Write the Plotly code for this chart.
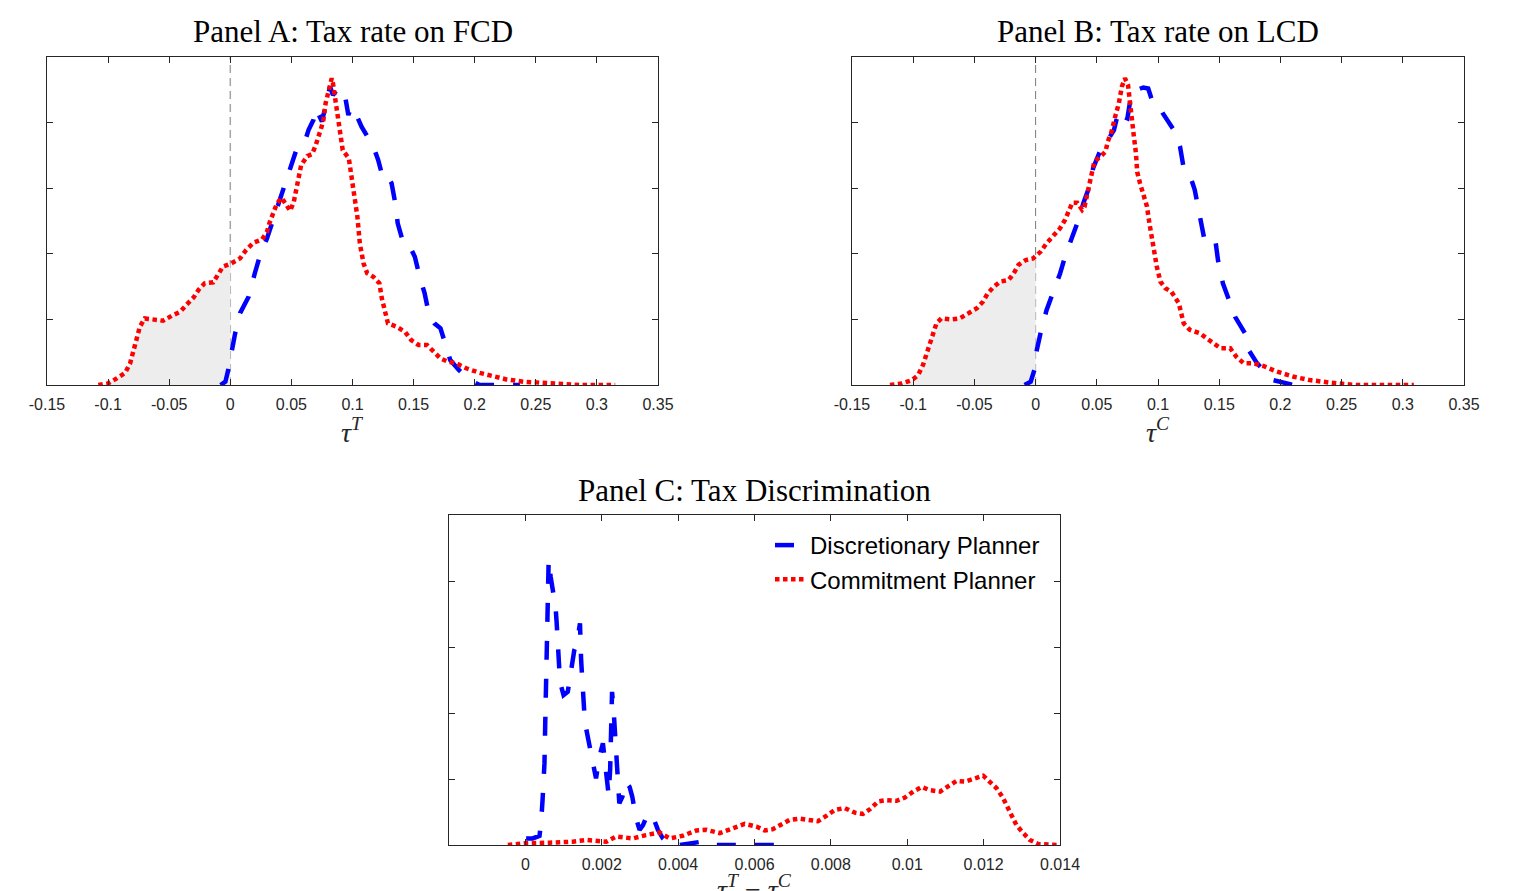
import numpy as np
import plotly.graph_objects as go

# ---------------- data ----------------
# Panel A: tax rate on FCD (tau^T)
A_blue_x = [-0.008, -0.004, -0.002, 0.001, 0.004, 0.008, 0.015, 0.020, 0.024, 0.030, 0.035, 0.041, 0.045,
            0.050, 0.054, 0.061, 0.064, 0.068, 0.070, 0.075, 0.0816, 0.084, 0.088, 0.0925, 0.094, 0.0966,
            0.099, 0.102, 0.1075, 0.117, 0.121, 0.125, 0.129, 0.132, 0.135, 0.137, 0.142, 0.147, 0.151,
            0.155, 0.159, 0.163, 0.167, 0.172, 0.176, 0.180, 0.187, 0.196, 0.204, 0.237]
A_blue_y = [0, 0.10, 0.41, 1.07, 1.58, 2.19, 2.69, 3.40, 3.91, 4.47, 5.03, 5.64, 6.10, 6.71, 7.16, 7.42,
            7.77, 8.08, 8.44, 8.03, 9.10, 8.84, 9.04, 9.0, 8.79, 8.23, 8.48, 8.33, 7.87, 7.27, 6.86, 6.30,
            6.35, 6.15, 5.54, 4.93, 4.27, 4.22, 3.91, 3.30, 2.80, 2.08, 1.88, 1.73, 1.27, 0.76, 0.46, 0.15,
            0, 0]
A_red_x = [-0.108, -0.100, -0.093, -0.086, -0.082, -0.078, -0.074, -0.070, -0.063, -0.055, -0.048, -0.041,
           -0.036, -0.030, -0.026, -0.021, -0.014, -0.010, -0.006, 0.001, 0.008, 0.013, 0.019, 0.026, 0.030,
           0.032, 0.035, 0.038, 0.042, 0.046, 0.049, 0.052, 0.054, 0.056, 0.058, 0.063, 0.067, 0.070, 0.073,
           0.076, 0.078, 0.081, 0.083, 0.084, 0.086, 0.088, 0.090, 0.092, 0.097, 0.099, 0.102, 0.104, 0.106,
           0.109, 0.112, 0.117, 0.122, 0.124, 0.127, 0.129, 0.136, 0.143, 0.148, 0.154, 0.161, 0.166, 0.172,
           0.178, 0.185, 0.193, 0.204, 0.215, 0.226, 0.240, 0.259, 0.286, 0.315]
A_red_y = [0, 0.05, 0.2, 0.37, 0.66, 1.17, 1.78, 2.03, 2.0, 1.96, 2.11, 2.23, 2.44, 2.67, 2.90, 3.10, 3.13,
           3.35, 3.61, 3.71, 3.86, 4.12, 4.34, 4.44, 4.67, 4.93, 5.23, 5.52, 5.71, 5.49, 5.31, 5.59, 5.95,
           6.30, 6.71, 6.98, 7.04, 7.32, 7.67, 8.03, 8.59, 9.10, 9.35, 9.20, 8.69, 8.18, 7.57, 7.16, 6.91,
           6.35, 5.74, 5.13, 4.32, 3.71, 3.41, 3.30, 3.10, 2.64, 2.19, 1.88, 1.78, 1.62, 1.37, 1.22, 1.22,
           1.02, 0.81, 0.71, 0.66, 0.51, 0.37, 0.27, 0.17, 0.10, 0.05, 0.0, 0]

# Panel B: tax rate on LCD (tau^C)
B_blue_x = [-0.009, -0.004, -0.001, 0.001, 0.004, 0.009, 0.014, 0.020, 0.024, 0.030, 0.035, 0.039, 0.043,
            0.047, 0.053, 0.059, 0.064, 0.068, 0.072, 0.075, 0.0785, 0.082, 0.088, 0.092, 0.095, 0.100,
            0.104, 0.113, 0.118, 0.121, 0.126, 0.130, 0.134, 0.138, 0.142, 0.147, 0.149, 0.153, 0.159,
            0.163, 0.171, 0.174, 0.181, 0.187, 0.194, 0.211, 0.224]
B_blue_y = [0, 0.10, 0.46, 1.07, 1.58, 2.29, 2.80, 3.40, 3.91, 4.52, 5.03, 5.54, 5.95, 6.61, 7.16, 7.47,
            7.77, 8.38, 8.18, 8.13, 8.94, 8.99, 9.07, 9.04, 8.69, 8.59, 8.28, 7.77, 7.27, 6.61, 6.40, 5.95,
            5.23, 4.42, 4.27, 4.37, 3.81, 3.10, 2.49, 2.08, 1.58, 1.07, 0.66, 0.41, 0.15, 0, 0]
B_red_x = [-0.119, -0.109, -0.101, -0.096, -0.092, -0.088, -0.084, -0.081, -0.077, -0.069, -0.062, -0.055,
           -0.048, -0.043, -0.039, -0.034, -0.029, -0.022, -0.018, -0.014, -0.008, -0.002, 0.004, 0.009,
           0.014, 0.020, 0.024, 0.027, 0.030, 0.034, 0.038, 0.040, 0.043, 0.045, 0.048, 0.053, 0.057,
           0.059, 0.062, 0.065, 0.068, 0.0705, 0.073, 0.0755, 0.077, 0.079, 0.080, 0.082, 0.083, 0.0853,
           0.088, 0.091, 0.093, 0.096, 0.099, 0.102, 0.106, 0.111, 0.117, 0.121, 0.126, 0.134, 0.142,
           0.151, 0.159, 0.164, 0.170, 0.178, 0.186, 0.197, 0.211, 0.224, 0.241, 0.262, 0.309]
B_red_y = [0, 0.05, 0.15, 0.30, 0.61, 1.07, 1.47, 1.88, 2.03, 2.0, 2.03, 2.19, 2.34, 2.54, 2.80, 3.0, 3.15,
           3.20, 3.40, 3.66, 3.81, 3.86, 4.06, 4.32, 4.52, 4.78, 5.03, 5.34, 5.56, 5.56, 5.34, 5.44, 5.95,
           6.45, 6.81, 6.96, 7.11, 7.42, 7.72, 8.18, 8.59, 9.10, 9.35, 9.15, 8.74, 8.18, 7.67, 7.06, 6.50,
           6.15, 5.84, 5.44, 4.93, 4.22, 3.61, 3.15, 2.95, 2.84, 2.49, 1.88, 1.68, 1.58, 1.37, 1.12, 1.12,
           0.86, 0.66, 0.66, 0.58, 0.41, 0.25, 0.15, 0.07, 0, 0]

# Panel C: tax discrimination (tau^T - tau^C)
C_blue_x = [0.00002, 0.00019, 0.00037, 0.00041, 0.00045, 0.0005, 0.00052, 0.00054, 0.00056, 0.00057,
            0.00061, 0.00066, 0.00072, 0.00079, 0.00082, 0.00085, 0.00089, 0.00094, 0.001, 0.00111,
            0.00117, 0.00122, 0.00128, 0.00135, 0.0014, 0.00143, 0.00146, 0.0015, 0.00155, 0.00159,
            0.00168, 0.00177, 0.00185, 0.00194, 0.00203, 0.00212, 0.00218, 0.00222, 0.00225, 0.00227,
            0.00231, 0.00236, 0.00239, 0.00246, 0.00254, 0.00262, 0.00273, 0.0028, 0.0029, 0.00299,
            0.00308, 0.00321, 0.00334, 0.00347, 0.0036, 0.00378, 0.00404, 0.00439, 0.00461, 0.00478,
            0.00517, 0.0069]
C_blue_y = [10, 10, 14, 33, 68, 124, 184, 255, 316, 376, 432, 407, 386, 361, 336, 295, 265, 240, 227, 232,
            255, 278, 295, 306, 321, 336, 280, 230, 194, 177, 154, 124, 101, 134, 154, 114, 76, 114, 179,
            232, 205, 154, 109, 63, 73, 96, 88, 73, 40, 23, 30, 48, 43, 23, 10, 0, 0, 2.5, 5, 0, 0, 0]
C_red_x = [-0.00046, 0.0, 0.00063, 0.00124, 0.00159, 0.00212, 0.00238, 0.00281, 0.00316, 0.00351, 0.00378,
           0.00412, 0.00448, 0.00474, 0.00509, 0.00544, 0.00574, 0.00605, 0.00627, 0.00648, 0.0067,
           0.00692, 0.00718, 0.00745, 0.00766, 0.00788, 0.0081, 0.00836, 0.00863, 0.00884, 0.00902,
           0.00924, 0.00946, 0.00972, 0.00994, 0.01016, 0.01038, 0.01059, 0.01086, 0.01107, 0.01129,
           0.01151, 0.01177, 0.01199, 0.01212, 0.01234, 0.01251, 0.01269, 0.01286, 0.01304, 0.01321,
           0.01343, 0.01391]
C_red_y = [0, 2.5, 3.5, 5, 7.6, 5, 13, 10, 15, 19, 10, 14, 22, 23, 18, 25, 32, 28, 22, 24, 32, 38, 40, 37,
           36, 44, 53, 56, 49, 47, 54, 66, 68, 67, 72, 81, 88, 83, 81, 89, 97, 96, 100, 105, 98, 86, 71, 48,
           30, 18, 7.6, 1.5, 0]

AB_xticks = [-0.15, -0.1, -0.05, 0, 0.05, 0.1, 0.15, 0.2, 0.25, 0.3, 0.35]
AB_xticktext = ["-0.15", "-0.1", "-0.05", "0", "0.05", "0.1", "0.15", "0.2", "0.25", "0.3", "0.35"]
C_xticks = [0, 0.002, 0.004, 0.006, 0.008, 0.01, 0.012, 0.014]
C_xticktext = ["0", "0.002", "0.004", "0.006", "0.008", "0.01", "0.012", "0.014"]
AB_yticks = [2, 4, 6, 8]
C_yticks = [100, 200, 300, 400]

titles = ["Panel A: Tax rate on FCD", "Panel B: Tax rate on LCD", "Panel C: Tax Discrimination"]
series_names = ["Discretionary Planner", "Commitment Planner"]

# ---------------- style ----------------
OFF = 8                      # page body margin (px)
W, H = 1530 - OFF, 891 - OFF  # figure size so it fills the window
BLUE, RED = "#0000ff", "#ff0000"
AX = "#262626"
BLUE_DASH = "19px,19px"
RED_DOT = "4.5px,3.5px"
LW = 4.5

# panel boxes in window pixels: (left, right, top, bottom)
boxes = {"A": (47, 658, 57, 385), "B": (852, 1464, 57, 385), "C": (449, 1060, 515, 845)}


def px(x):
    return (x - OFF) / W


def py(y):
    return 1 - (y - OFF) / H


def dom(b):
    l, r, t, btm = b
    return [px(l), px(r)], [py(btm), py(t)]


fig = go.Figure()


def neg_fill(xs, ys, xa, ya):
    xs = np.asarray(xs, float)
    ys = np.asarray(ys, float)
    m = xs <= 0
    y0 = float(np.interp(0.0, xs, ys))
    fx = np.concatenate([xs[m], [0.0]])
    fy = np.concatenate([ys[m], [y0]])
    fig.add_trace(go.Scatter(x=fx, y=fy, mode="lines", fill="tozeroy", fillcolor="#ededed",
                             line=dict(width=0, color="rgba(0,0,0,0)"), xaxis=xa, yaxis=ya,
                             showlegend=False, hoverinfo="skip"))


def pair(bx, by, rx, ry, xa, ya, legend):
    fig.add_trace(go.Scatter(x=bx, y=by, mode="lines", name=series_names[0],
                             line=dict(color=BLUE, width=LW, dash=BLUE_DASH),
                             xaxis=xa, yaxis=ya, showlegend=legend, legendrank=1))
    fig.add_trace(go.Scatter(x=rx, y=ry, mode="lines", name=series_names[1],
                             line=dict(color=RED, width=LW, dash=RED_DOT),
                             xaxis=xa, yaxis=ya, showlegend=legend, legendrank=2))


neg_fill(A_red_x, A_red_y, "x", "y")
pair(A_blue_x, A_blue_y, A_red_x, A_red_y, "x", "y", False)
neg_fill(B_red_x, B_red_y, "x2", "y2")
pair(B_blue_x, B_blue_y, B_red_x, B_red_y, "x2", "y2", False)
pair(C_blue_x, C_blue_y, C_red_x, C_red_y, "x3", "y3", True)

tickfont = dict(family="Liberation Sans, Arial, sans-serif", size=16, color=AX)


def xax(b, rng, tv, tt, anchor):
    d, _ = dom(b)
    return dict(domain=d, range=rng, tickvals=tv, ticktext=tt, anchor=anchor, automargin=False,
                showline=True, linecolor=AX, linewidth=1, mirror="ticks",
                ticks="inside", ticklen=6, tickcolor=AX, tickwidth=1,
                showgrid=False, zeroline=False, tickfont=tickfont, ticklabelstandoff=5)


def yax(b, rng, tv, anchor):
    _, d = dom(b)
    return dict(domain=d, range=rng, tickvals=tv, anchor=anchor, showticklabels=False, automargin=False,
                showline=True, linecolor=AX, linewidth=1, mirror="ticks",
                ticks="inside", ticklen=6, tickcolor=AX, tickwidth=1,
                showgrid=False, zeroline=False)


fig.update_layout(
    width=W, height=H, margin=dict(l=0, r=0, t=0, b=0, autoexpand=False),
    paper_bgcolor="white", plot_bgcolor="white",
    xaxis=xax(boxes["A"], [-0.15, 0.35], AB_xticks, AB_xticktext, "y"),
    yaxis=yax(boxes["A"], [0, 10], AB_yticks, "x"),
    xaxis2=xax(boxes["B"], [-0.15, 0.35], AB_xticks, AB_xticktext, "y2"),
    yaxis2=yax(boxes["B"], [0, 10], AB_yticks, "x2"),
    xaxis3=xax(boxes["C"], [-0.002, 0.014], C_xticks, C_xticktext, "y3"),
    yaxis3=yax(boxes["C"], [0, 500], C_yticks, "x3"),
    legend=dict(x=px(770), y=py(523), xanchor="left", yanchor="top",
                bgcolor="rgba(255,255,255,0)", borderwidth=0,
                font=dict(family="Liberation Sans, Arial, sans-serif", size=24, color="black"),
                tracegroupgap=0),
    showlegend=True,
)

# zero reference lines in panels A and B
fig.add_shape(type="line", xref="x", yref="y domain", x0=0, x1=0, y0=0, y1=1,
              line=dict(color="#a6a6a6", width=1.5, dash="8px,5px"), layer="below")
fig.add_shape(type="line", xref="x2", yref="y2 domain", x0=0, x1=0, y0=0, y1=1,
              line=dict(color="#7a7a7a", width=1, dash="8px,5px"), layer="below")

serif = "Liberation Serif, Times New Roman, serif"
# titles
for key, t, ty in [("A", titles[0], 31), ("B", titles[1], 31), ("C", titles[2], 490)]:
    l, r, _, _ = boxes[key]
    fig.add_annotation(text=t, x=px((l + r) / 2), y=py(ty), xref="paper", yref="paper",
                       xanchor="center", yanchor="middle", showarrow=False,
                       font=dict(family=serif, size=31, color="black"))

# axis labels
xlabels = [("A", "<i>τ</i><sup><i>T</i></sup>", 430),
           ("B", "<i>τ</i><sup><i>C</i></sup>", 430),
           ("C", "<i>τ</i><sup><i>T</i></sup> − <i>τ</i><sup><i>C</i></sup>", 887)]
for key, t, ty in xlabels:
    l, r, _, _ = boxes[key]
    fig.add_annotation(text=t, x=px((l + r) / 2), y=py(ty), xref="paper", yref="paper",
                       xanchor="center", yanchor="middle", showarrow=False,
                       font=dict(family=serif, size=28, color=AX))

fig.write_html("out.html")
